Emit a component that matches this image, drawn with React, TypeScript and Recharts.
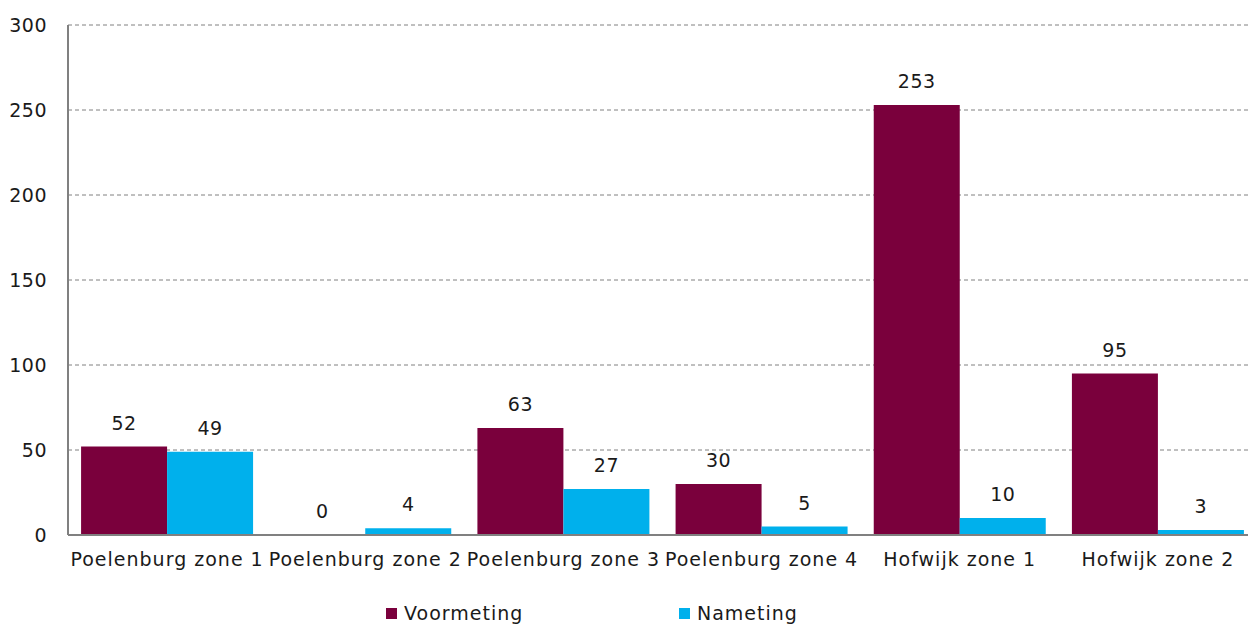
import React from 'react';
import { BarChart, Bar, XAxis, YAxis, CartesianGrid, Legend, LabelList } from 'recharts';

// categories and series values
const zones = ['Poelenburg zone 1', 'Poelenburg zone 2', 'Poelenburg zone 3', 'Poelenburg zone 4', 'Hofwijk zone 1', 'Hofwijk zone 2'];
const voormeting = [52, 0, 63, 30, 253, 95];
const nameting = [49, 4, 27, 5, 10, 3];
const yTicks = [0, 50, 100, 150, 200, 250, 300];

const series = [
  { key: 'voormeting', name: 'Voormeting', color: '#7a003c' },
  { key: 'nameting', name: 'Nameting', color: '#00b0ec' },
];

const data = zones.map((zone, i) => ({ zone, voormeting: voormeting[i], nameting: nameting[i] }));

const font = '"DejaVu Sans", Verdana, sans-serif';
const textColor = '#1a1a1a';

// legend drawn as two square-marker items, offset like the original
const renderLegend = () => (
  <div style={{ height: 30, display: 'flex', alignItems: 'center', paddingLeft: 386, fontFamily: font, fontSize: 19, letterSpacing: 1, color: textColor }}>
    {series.map((s, i) => (
      <div key={s.key} style={{ display: 'flex', alignItems: 'center', width: i === 0 ? 293 : 'auto' }}>
        <span style={{ display: 'inline-block', width: 11, height: 11, background: s.color, marginRight: 7 }} />
        <span>{s.name}</span>
      </div>
    ))}
  </div>
);

export default function App() {
  return (
    <div style={{ position: 'absolute', left: 0, top: 0, width: 1248, height: 628, overflow: 'hidden', background: '#fff' }}>
      <BarChart
        width={1248}
        height={628}
        data={data}
        margin={{ top: 25, right: -9, left: 0, bottom: 0 }}
        barCategoryGap="6.6%"
        barGap={0}
      >
        <CartesianGrid vertical={false} stroke="#808080" strokeDasharray="4 3" />
        <XAxis
          dataKey="zone"
          height={63}
          tickLine={false}
          tickSize={0}
          tickMargin={18}
          stroke="#808080"
          strokeWidth={2}
          interval={0}
          tick={{ fill: textColor, fontSize: 19, fontFamily: font, letterSpacing: 1 }}
        />
        <YAxis
          width={68}
          domain={[0, 300]}
          ticks={yTicks}
          tickLine={false}
          tickSize={0}
          tickMargin={21}
          stroke="#808080"
          strokeWidth={2}
          tick={{ fill: textColor, fontSize: 19, fontFamily: font, letterSpacing: 0.5 }}
        />
        <Legend verticalAlign="bottom" content={renderLegend} />
        {series.map((s) => (
          <Bar key={s.key} dataKey={s.key} name={s.name} fill={s.color} minPointSize={0.01} isAnimationActive={false}>
            <LabelList dataKey={s.key} position="top" offset={17} fill={textColor} fontSize={19} fontFamily={font} letterSpacing={0.5} />
          </Bar>
        ))}
      </BarChart>
    </div>
  );
}
